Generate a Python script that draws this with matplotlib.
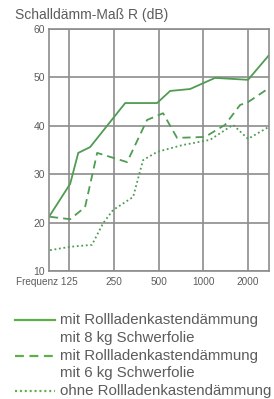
import matplotlib
matplotlib.use("Agg")
import matplotlib.pyplot as plt
from matplotlib.lines import Line2D

plt.rcParams['font.family'] = ['Liberation Sans', 'DejaVu Sans']

# Data (frequency in Hz, value in dB)
freq_solid = [91.5, 127, 144, 173, 298, 488, 598, 815, 1200, 2000, 2768]
val_solid = [21.2, 28.0, 34.4, 35.6, 44.7, 44.7, 47.2, 47.6, 49.9, 49.5, 54.6]

freq_dashed = [93, 127, 160, 193, 307, 418, 536, 666, 1027, 1401, 1767, 2000, 2768]
val_dashed = [21.2, 20.7, 23.2, 34.4, 32.5, 41.2, 42.6, 37.5, 37.7, 40.2, 44.3, 44.9, 47.8]

freq_dotted = [93, 127, 178, 212, 247, 337, 393, 488, 720, 1110, 1585, 2000, 2768]
val_dotted = [14.3, 15.0, 15.4, 19.9, 22.6, 25.3, 32.9, 34.6, 36.0, 37.1, 40.2, 37.3, 39.8]

x_ticks = [125, 250, 500, 1000, 2000]
x_ticklabels = ["Frequenz 125", "250", "500", "1000", "2000"]
y_ticks = [10, 20, 30, 40, 50, 60]

labels = [["mit Rollladenkastendämmung", "mit 8 kg Schwerfolie"],
          ["mit Rollladenkastendämmung", "mit 6 kg Schwerfolie"],
          ["ohne Rollladenkastendämmung"]]
title = "Schalldämm-Maß R (dB)"

green = "#4f9c52"
grid_c = "#8c8c8c"
text_c = "#5c5c5c"

fig = plt.figure(figsize=(2.74, 3.99), dpi=100)
ax = fig.add_axes([49/274, 1 - 271/399, 220/274, 242/399])
ax.set_xscale('log', base=2)
ax.set_xlim(91.5, 2768)
ax.set_ylim(10, 60)

ax.plot(freq_solid, val_solid, color=green, lw=1.3, solid_joinstyle='miter')
ax.plot(freq_dashed, val_dashed, color=green, lw=1.3, dashes=(4.5, 2.8))
ax.plot(freq_dotted, val_dotted, color=green, lw=1.3, dashes=(1, 1.5))

ax.set_xticks(x_ticks)
ax.set_xticklabels([])
ax.minorticks_off()
ax.set_yticks(y_ticks)
ax.set_yticklabels([str(v) for v in y_ticks], fontsize=7.5, color=text_c)
ax.tick_params(axis='both', length=0, pad=3)
ax.grid(True, color=grid_c, lw=1.2)
for s in ax.spines.values():
    s.set_color(grid_c)
    s.set_linewidth(1.2)
ax.set_axisbelow(True)

# x tick labels
for xt, lab in zip(x_ticks, x_ticklabels):
    if lab.startswith("Frequenz"):
        ax.text(xt * 2 ** (0.2), 7.7, lab, ha='right', va='center', fontsize=7.2,
                color=text_c, clip_on=False)
    else:
        ax.text(xt, 7.7, lab, ha='center', va='center', fontsize=7.2,
                color=text_c, clip_on=False)

fig.text(15/274, 1 - 15/399, title, fontsize=10, color=text_c, ha='left', va='center')

# legend
styles = [dict(ls='-'), dict(dashes=(4, 2.5)), dict(dashes=(0.9, 1.3))]
row_y = [[320, 338], [356, 373], [391]]
for lab_rows, st, ys in zip(labels, styles, row_y):
    yf = 1 - ys[0]/399
    fig.add_artist(Line2D([15/274, 55/274], [yf, yf], color="#5fae4a", lw=1.6, **st))
    for txt, yr in zip(lab_rows, ys):
        fig.text(60/274, 1 - yr/399, txt, fontsize=10.8, color=text_c,
                 ha='left', va='center')

fig.savefig("out.png", dpi=100)
